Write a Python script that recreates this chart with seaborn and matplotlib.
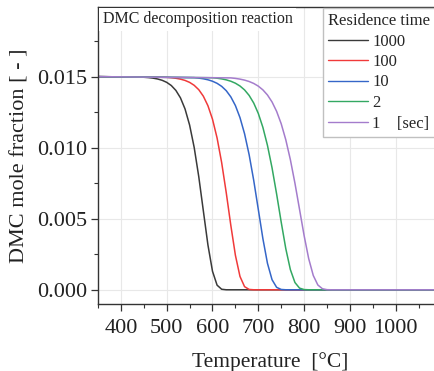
import numpy as np
import pandas as pd
import matplotlib
matplotlib.use("Agg")
import matplotlib.pyplot as plt
import seaborn as sns
from matplotlib.ticker import MultipleLocator, FormatStrFormatter
from matplotlib.lines import Line2D

# ---- data (mole fraction in units of 1e-3) ----
residence_times = ["1000", "100", "10", "2", "1"]
legend_labels = ["1000", "100", "10", "2", "1    [sec]"]
colors = ["#3a3a3a", "#f03a3a", "#3566c8", "#33a862", "#a47ccc"]

T_1000 = [350, 450, 460, 470, 480, 490, 500, 510, 520, 530, 540, 550, 560, 570,
          580, 590, 600, 610, 620, 630, 640, 1100]
x_1000 = [15.0, 14.957, 14.933, 14.895, 14.835, 14.743, 14.598, 14.375, 14.031,
          13.509, 12.729, 11.595, 10.017, 7.962, 5.556, 3.159, 1.303, 0.325,
          0.037, 0.001, 0.0, 0.0]

T_100 = [350, 500, 510, 520, 530, 540, 550, 560, 570, 580, 590, 600, 610, 620,
         630, 640, 650, 660, 670, 680, 690, 700, 1100]
x_100 = [15.0, 14.950, 14.924, 14.884, 14.824, 14.733, 14.596, 14.389, 14.081,
         13.623, 12.955, 12.003, 10.683, 8.949, 6.834, 4.535, 2.429, 0.939,
         0.221, 0.024, 0.001, 0.0, 0.0]

T_10 = [350, 560, 570, 580, 590, 600, 610, 620, 630, 640, 650, 660, 670, 680,
        690, 700, 710, 720, 730, 740, 750, 760, 770, 1100]
x_10 = [15.0, 14.929, 14.896, 14.848, 14.778, 14.676, 14.529, 14.316, 14.011,
        13.575, 12.965, 12.117, 10.980, 9.504, 7.698, 5.655, 3.602, 1.863,
        0.710, 0.173, 0.022, 0.001, 0.0, 0.0]

T_2 = [350, 600, 610, 620, 630, 640, 650, 660, 670, 680, 690, 700, 710, 720,
       730, 740, 750, 760, 770, 780, 790, 800, 810, 820, 1100]
x_2 = [15.0, 14.922, 14.889, 14.841, 14.773, 14.676, 14.537, 14.341, 14.065,
       13.677, 13.142, 12.410, 11.430, 10.161, 8.583, 6.738, 4.763, 2.898,
       1.421, 0.512, 0.118, 0.015, 0.001, 0.0, 0.0]

T_1 = [350, 640, 650, 660, 670, 680, 690, 700, 710, 720, 730, 740, 750, 760,
       770, 780, 790, 800, 810, 820, 830, 840, 850, 860, 1100]
x_1 = [15.0, 14.911, 14.876, 14.825, 14.755, 14.657, 14.520, 14.331, 14.068,
       13.708, 13.217, 12.555, 11.684, 10.559, 9.159, 7.500, 5.666, 3.819,
       2.195, 1.008, 0.338, 0.073, 0.008, 0.0, 0.0]

x_ticks = [400, 500, 600, 700, 800, 900, 1000]
y_ticks = [0.000, 0.005, 0.010, 0.015]

series = {"1000": (T_1000, x_1000), "100": (T_100, x_100), "10": (T_10, x_10),
          "2": (T_2, x_2), "1": (T_1, x_1)}
frames = []
for key in residence_times:
    T, x = series[key]
    frames.append(pd.DataFrame({"T": T, "x": np.array(x) * 1e-3, "time": key}))
df = pd.concat(frames, ignore_index=True)

# ---- style ----
sns.set_style("ticks")
plt.rcParams["font.family"] = ["Liberation Serif", "DejaVu Serif"]
plt.rcParams["axes.edgecolor"] = "#333333"
plt.rcParams["axes.linewidth"] = 1.0

fig = plt.figure(figsize=(4.34, 3.71), dpi=100)
W, H = 434, 371
ax = fig.add_axes([98 / W, (H - 304) / H, (441.5 - 98) / W, (304 - 7) / H])

sns.lineplot(data=df, x="T", y="x", hue="time", hue_order=residence_times,
             palette=colors, linewidth=1.1, ax=ax, legend=False,
             estimator=None, sort=False)

ax.set_xlim(350, 1100)
ax.set_ylim(-0.001, 0.0199)
ax.set_xticks(x_ticks)
ax.set_yticks(y_ticks)
ax.xaxis.set_minor_locator(MultipleLocator(50))
ax.yaxis.set_minor_locator(MultipleLocator(0.0025))
ax.yaxis.set_major_formatter(FormatStrFormatter("%.3f"))
ax.tick_params(which="major", direction="out", length=5, width=0.9,
               labelsize=16, pad=3, color="#333333", labelcolor="#222222")
ax.tick_params(axis="x", which="major", pad=6)
ax.tick_params(which="minor", direction="out", length=3, width=0.8,
               color="#333333")
ax.grid(True, which="major", color="#e8e8e8", linewidth=0.8)
ax.set_axisbelow(True)
for s in ["top", "right", "left", "bottom"]:
    ax.spines[s].set_visible(True)

ax.set_xlabel("Temperature  [\u00b0C]", fontsize=15.5, color="#222222", labelpad=10)
ax.set_ylabel("DMC mole fraction [ - ]", fontsize=16, color="#222222", labelpad=5)

ax.text(5 / 343.5, 0.985, "DMC decomposition reaction", transform=ax.transAxes,
        ha="left", va="top", fontsize=11.5, color="#222222", zorder=4,
        bbox=dict(facecolor="white", edgecolor="none", pad=2.5))

handles = [Line2D([0], [0], color=c, lw=1.0) for c in colors]
leg = ax.legend(handles, legend_labels, loc="upper left",
                bbox_to_anchor=(323 / W, 1 - 8 / H), bbox_transform=fig.transFigure,
                title="Residence time", title_fontsize=12, fontsize=12,
                frameon=True, fancybox=False, edgecolor="#c0c0c0", framealpha=1,
                handlelength=2.4, handletextpad=0.25, labelspacing=0.27,
                borderpad=0.3, borderaxespad=0, alignment="left")
leg.get_frame().set_linewidth(1.0)

fig.savefig("out.png", dpi=100)
